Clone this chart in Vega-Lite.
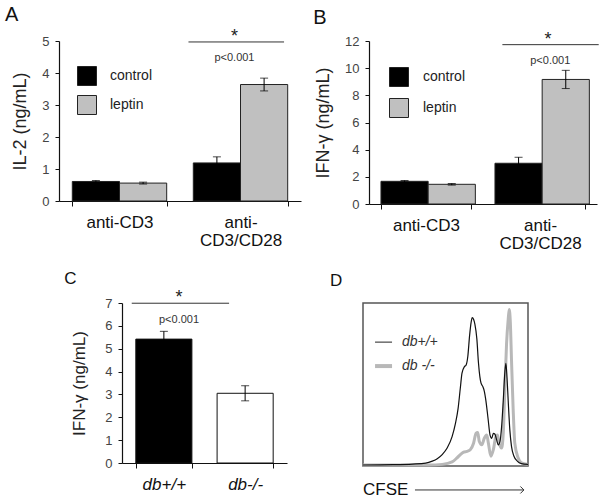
{
  "$schema": "https://vega.github.io/schema/vega-lite/v6.json",
  "background": "white",
  "padding": {"left": 5, "top": 5, "right": 0, "bottom": 0},
  "spacing": 18,
  "resolve": {"scale": {"fill": "independent"}, "legend": {"fill": "independent"}},
  "datasets": {
    "a": [
      {"stim": "anti-CD3", "trt": "control", "mean": 0.61, "lo": 0.58, "hi": 0.64},
      {"stim": "anti-CD3", "trt": "leptin", "mean": 0.56, "lo": 0.53, "hi": 0.59},
      {"stim": "anti-CD3/CD28", "trt": "control", "mean": 1.19, "lo": 1.0, "hi": 1.38},
      {"stim": "anti-CD3/CD28", "trt": "leptin", "mean": 3.64, "lo": 3.44, "hi": 3.84}
    ],
    "b": [
      {"stim": "anti-CD3", "trt": "control", "mean": 1.67, "lo": 1.61, "hi": 1.73},
      {"stim": "anti-CD3", "trt": "leptin", "mean": 1.45, "lo": 1.39, "hi": 1.51},
      {"stim": "anti-CD3/CD28", "trt": "control", "mean": 3.0, "lo": 2.56, "hi": 3.44},
      {"stim": "anti-CD3/CD28", "trt": "leptin", "mean": 9.17, "lo": 8.5, "hi": 9.84}
    ],
    "c": [
      {"geno": "db+/+", "mean": 5.42, "lo": 5.08, "hi": 5.76},
      {"geno": "db-/-", "mean": 3.05, "lo": 2.72, "hi": 3.38}
    ],
    "d_wt": [
      {"ch": 0, "count": 0.6}, {"ch": 18, "count": 0.8}, {"ch": 30, "count": 1.2}, {"ch": 38, "count": 1.8},
      {"ch": 42, "count": 3}, {"ch": 45, "count": 4.5}, {"ch": 48, "count": 7}, {"ch": 51, "count": 11},
      {"ch": 54, "count": 18}, {"ch": 56, "count": 26}, {"ch": 57.6, "count": 35}, {"ch": 59, "count": 48},
      {"ch": 60, "count": 57}, {"ch": 61.5, "count": 61}, {"ch": 62.5, "count": 62}, {"ch": 63.5, "count": 67},
      {"ch": 64.6, "count": 80}, {"ch": 65.5, "count": 88}, {"ch": 66.2, "count": 91}, {"ch": 67, "count": 90},
      {"ch": 67.8, "count": 87}, {"ch": 69, "count": 78}, {"ch": 70, "count": 63}, {"ch": 70.8, "count": 55},
      {"ch": 71.5, "count": 51}, {"ch": 72.5, "count": 49}, {"ch": 73.5, "count": 46}, {"ch": 74.5, "count": 40},
      {"ch": 75.8, "count": 29}, {"ch": 77, "count": 19}, {"ch": 78, "count": 17}, {"ch": 79, "count": 20},
      {"ch": 80, "count": 19.5}, {"ch": 81, "count": 16}, {"ch": 82, "count": 13}, {"ch": 83, "count": 15},
      {"ch": 84, "count": 24}, {"ch": 85, "count": 40}, {"ch": 86, "count": 58}, {"ch": 86.6, "count": 63},
      {"ch": 87.3, "count": 54}, {"ch": 88, "count": 40}, {"ch": 89, "count": 22}, {"ch": 90, "count": 12},
      {"ch": 91.5, "count": 6}, {"ch": 93.5, "count": 3}, {"ch": 96, "count": 1.5}, {"ch": 100, "count": 1}
    ],
    "d_ko": [
      {"ch": 0, "count": 0.6}, {"ch": 40, "count": 0.6}, {"ch": 48, "count": 1}, {"ch": 54, "count": 2.5},
      {"ch": 57, "count": 5}, {"ch": 59, "count": 7}, {"ch": 61, "count": 8.5}, {"ch": 63, "count": 9},
      {"ch": 65, "count": 10}, {"ch": 67, "count": 14}, {"ch": 68.5, "count": 20}, {"ch": 69.5, "count": 20.5},
      {"ch": 70.5, "count": 15}, {"ch": 72, "count": 13}, {"ch": 73.5, "count": 17}, {"ch": 75, "count": 19},
      {"ch": 76, "count": 14}, {"ch": 77.5, "count": 6}, {"ch": 79, "count": 10}, {"ch": 80.5, "count": 18},
      {"ch": 81.5, "count": 19}, {"ch": 82.5, "count": 14}, {"ch": 84, "count": 11}, {"ch": 85, "count": 20},
      {"ch": 86, "count": 48}, {"ch": 87, "count": 75}, {"ch": 88, "count": 90}, {"ch": 88.6, "count": 96},
      {"ch": 89.3, "count": 88}, {"ch": 90, "count": 65}, {"ch": 91, "count": 35}, {"ch": 92, "count": 14},
      {"ch": 94, "count": 5}, {"ch": 96, "count": 2}, {"ch": 100, "count": 1}
    ]
  },
  "vconcat": [
    {
      "spacing": 12,
      "resolve": {"scale": {"fill": "independent"}, "legend": {"fill": "independent"}},
      "hconcat": [
        {
          "width": 242,
          "height": 160,
          "layer": [
            {
              "data": {"name": "a"},
              "encoding": {
                "x": {"field": "stim", "type": "nominal", "sort": ["anti-CD3", "anti-CD3/CD28"],
                  "scale": {"paddingInner": 0.22, "paddingOuter": 0.11},
                  "axis": {"title": null, "labelAngle": 0, "tickBand": "extent", "labelLineHeight": 18,
                    "labelExpr": "datum.value == 'anti-CD3/CD28' ? ['anti-', 'CD3/CD28'] : datum.value"}},
                "xOffset": {"field": "trt", "type": "nominal", "sort": ["control", "leptin"], "scale": {"paddingInner": 0, "paddingOuter": 0}}
              },
              "layer": [
                {
                  "mark": {"type": "bar", "stroke": "#222", "strokeWidth": 1},
                  "encoding": {
                    "y": {"field": "mean", "type": "quantitative",
                      "scale": {"domain": [0, 5], "nice": false},
                      "axis": {"title": "IL-2 (ng/mL)", "values": [0, 1, 2, 3, 4, 5], "titleFontSize": 18, "titlePadding": 12}},
                    "fill": {"field": "trt", "type": "nominal", "scale": {"domain": ["control", "leptin"], "range": ["#000000", "#c0c0c0"]},
                      "legend": {"orient": "none", "legendX": 18, "legendY": 25, "title": null, "symbolType": "square", "symbolSize": 361, "symbolStrokeColor": "#222", "symbolStrokeWidth": 1, "labelFontSize": 14, "labelOffset": 13, "rowPadding": 5, "padding": 0, "labelColor": "#222"}}
                  }
                },
                {"mark": {"type": "rule", "color": "black", "strokeWidth": 1},
                 "encoding": {"y": {"field": "lo", "type": "quantitative", "scale": {"domain": [0, 5], "nice": false}, "axis": {"title": "IL-2 (ng/mL)", "values": [0, 1, 2, 3, 4, 5], "titleFontSize": 18, "titlePadding": 12}}, "y2": {"field": "hi"}}},
                {"mark": {"type": "tick", "orient": "horizontal", "color": "black", "size": 8, "thickness": 1},
                 "encoding": {"y": {"field": "hi", "type": "quantitative", "scale": {"domain": [0, 5], "nice": false}, "axis": {"title": "IL-2 (ng/mL)", "values": [0, 1, 2, 3, 4, 5], "titleFontSize": 18, "titlePadding": 12}}}},
                {"mark": {"type": "tick", "orient": "horizontal", "color": "black", "size": 8, "thickness": 1},
                 "encoding": {"y": {"field": "lo", "type": "quantitative", "scale": {"domain": [0, 5], "nice": false}, "axis": {"title": "IL-2 (ng/mL)", "values": [0, 1, 2, 3, 4, 5], "titleFontSize": 18, "titlePadding": 12}}}}
              ]
            },
            {
              "encoding": {
                "x": {"field": "x", "type": "quantitative", "scale": {"domain": [0, 2], "nice": false, "zero": false}, "axis": null},
                "y": {"field": "y", "type": "quantitative", "scale": {"domain": [0, 5], "nice": false}, "axis": {"title": "IL-2 (ng/mL)", "values": [0, 1, 2, 3, 4, 5], "titleFontSize": 18, "titlePadding": 12}}
              },
              "layer": [
                {"data": {"values": [{"x": 1.07, "x2": 1.86, "y": 4.97}]},
                 "mark": {"type": "rule", "color": "#333", "strokeWidth": 1},
                 "encoding": {"x2": {"field": "x2"}}},
                {"data": {"values": [{"x": 1.45, "y": 5.12, "t": "*"}]},
                 "mark": {"type": "text", "fontSize": 18, "color": "#222", "baseline": "middle"},
                 "encoding": {"text": {"field": "t"}}},
                {"data": {"values": [{"x": 1.45, "y": 4.47, "t": "p<0.001"}]},
                 "mark": {"type": "text", "fontSize": 11, "color": "#333", "baseline": "middle"},
                 "encoding": {"text": {"field": "t"}}},
                {"data": {"values": [{"x": -0.446, "y": 5.81, "t": "A"}]},
                 "mark": {"type": "text", "fontSize": 20, "color": "#111", "align": "left", "baseline": "middle"},
                 "encoding": {"text": {"field": "t"}}}
              ]
            }
          ],
          "resolve": {"scale": {"x": "independent"}}
        },
        {
          "width": 228,
          "height": 163,
          "layer": [
            {
              "data": {"name": "b"},
              "encoding": {
                "x": {"field": "stim", "type": "nominal", "sort": ["anti-CD3", "anti-CD3/CD28"],
                  "scale": {"paddingInner": 0.21, "paddingOuter": 0.105},
                  "axis": {"title": null, "labelAngle": 0, "tickBand": "extent", "labelLineHeight": 18,
                    "labelExpr": "datum.value == 'anti-CD3/CD28' ? ['anti-', 'CD3/CD28'] : datum.value"}},
                "xOffset": {"field": "trt", "type": "nominal", "sort": ["control", "leptin"], "scale": {"paddingInner": 0, "paddingOuter": 0}}
              },
              "layer": [
                {
                  "mark": {"type": "bar", "stroke": "#222", "strokeWidth": 1},
                  "encoding": {
                    "y": {"field": "mean", "type": "quantitative",
                      "scale": {"domain": [0, 12], "nice": false},
                      "axis": {"title": "IFN-γ (ng/mL)", "values": [0, 2, 4, 6, 8, 10, 12], "titleFontSize": 18, "titlePadding": 12}},
                    "fill": {"field": "trt", "type": "nominal", "scale": {"domain": ["control", "leptin"], "range": ["#000000", "#c0c0c0"]},
                      "legend": {"orient": "none", "legendX": 20, "legendY": 26, "title": null, "symbolType": "square", "symbolSize": 361, "symbolStrokeColor": "#222", "symbolStrokeWidth": 1, "labelFontSize": 14, "labelOffset": 14, "rowPadding": 7, "padding": 0, "labelColor": "#222"}}
                  }
                },
                {"mark": {"type": "rule", "color": "black", "strokeWidth": 1},
                 "encoding": {"y": {"field": "lo", "type": "quantitative", "scale": {"domain": [0, 12], "nice": false}, "axis": {"title": "IFN-γ (ng/mL)", "values": [0, 2, 4, 6, 8, 10, 12], "titleFontSize": 18, "titlePadding": 12}}, "y2": {"field": "hi"}}},
                {"mark": {"type": "tick", "orient": "horizontal", "color": "black", "size": 8, "thickness": 1},
                 "encoding": {"y": {"field": "hi", "type": "quantitative", "scale": {"domain": [0, 12], "nice": false}, "axis": {"title": "IFN-γ (ng/mL)", "values": [0, 2, 4, 6, 8, 10, 12], "titleFontSize": 18, "titlePadding": 12}}}},
                {"mark": {"type": "tick", "orient": "horizontal", "color": "black", "size": 8, "thickness": 1},
                 "encoding": {"y": {"field": "lo", "type": "quantitative", "scale": {"domain": [0, 12], "nice": false}, "axis": {"title": "IFN-γ (ng/mL)", "values": [0, 2, 4, 6, 8, 10, 12], "titleFontSize": 18, "titlePadding": 12}}}}
              ]
            },
            {
              "encoding": {
                "x": {"field": "x", "type": "quantitative", "scale": {"domain": [0, 2], "nice": false, "zero": false}, "axis": null},
                "y": {"field": "y", "type": "quantitative", "scale": {"domain": [0, 12], "nice": false}, "axis": {"title": "IFN-γ (ng/mL)", "values": [0, 2, 4, 6, 8, 10, 12], "titleFontSize": 18, "titlePadding": 12}}
              },
              "layer": [
                {"data": {"values": [{"x": 1.17, "x2": 2.015, "y": 11.73}]},
                 "mark": {"type": "rule", "color": "#333", "strokeWidth": 1},
                 "encoding": {"x2": {"field": "x2"}}},
                {"data": {"values": [{"x": 1.57, "y": 12.08, "t": "*"}]},
                 "mark": {"type": "text", "fontSize": 18, "color": "#222", "baseline": "middle"},
                 "encoding": {"text": {"field": "t"}}},
                {"data": {"values": [{"x": 1.59, "y": 10.53, "t": "p<0.001"}]},
                 "mark": {"type": "text", "fontSize": 11, "color": "#333", "baseline": "middle"},
                 "encoding": {"text": {"field": "t"}}},
                {"data": {"values": [{"x": -0.49, "y": 13.7, "t": "B"}]},
                 "mark": {"type": "text", "fontSize": 20, "color": "#111", "align": "left", "baseline": "middle"},
                 "encoding": {"text": {"field": "t"}}}
              ]
            }
          ],
          "resolve": {"scale": {"x": "independent"}}
        }
      ]
    },
    {
      "spacing": 42,
      "resolve": {"scale": {"fill": "independent"}, "legend": {"fill": "independent"}},
      "hconcat": [
        {
          "spacing": 0,
          "hconcat": [
            {
              "width": 5,
              "height": 4,
              "view": {"fill": "white", "stroke": null},
              "data": {"values": []},
              "mark": {"type": "point", "opacity": 0}
            },
            {
              "width": 165,
              "height": 160,
              "layer": [
                {
                  "data": {"name": "c"},
                  "encoding": {
                    "x": {"field": "geno", "type": "nominal", "sort": ["db+/+", "db-/-"],
                      "scale": {"paddingInner": 0.31, "paddingOuter": 0.17},
                      "axis": {"title": null, "labelAngle": 0, "tickBand": "extent", "labelFontStyle": "italic"}}
                  },
                  "layer": [
                    {
                      "mark": {"type": "bar", "stroke": "#111", "strokeWidth": 1},
                      "encoding": {
                        "y": {"field": "mean", "type": "quantitative",
                          "scale": {"domain": [0, 7], "nice": false},
                          "axis": {"title": "IFN-γ (ng/mL)", "values": [0, 1, 2, 3, 4, 5, 6, 7], "titleFontSize": 17, "titlePadding": 16}},
                        "fill": {"field": "geno", "type": "nominal", "scale": {"domain": ["db+/+", "db-/-"], "range": ["#000000", "#ffffff"]}, "legend": null}
                      }
                    },
                    {"mark": {"type": "rule", "color": "black", "strokeWidth": 1},
                     "encoding": {"y": {"field": "lo", "type": "quantitative", "scale": {"domain": [0, 7], "nice": false}, "axis": {"title": "IFN-γ (ng/mL)", "values": [0, 1, 2, 3, 4, 5, 6, 7], "titleFontSize": 17, "titlePadding": 16}}, "y2": {"field": "hi"}}},
                    {"mark": {"type": "tick", "orient": "horizontal", "color": "black", "size": 8, "thickness": 1},
                     "encoding": {"y": {"field": "hi", "type": "quantitative", "scale": {"domain": [0, 7], "nice": false}, "axis": {"title": "IFN-γ (ng/mL)", "values": [0, 1, 2, 3, 4, 5, 6, 7], "titleFontSize": 17, "titlePadding": 16}}}},
                    {"mark": {"type": "tick", "orient": "horizontal", "color": "black", "size": 8, "thickness": 1},
                     "encoding": {"y": {"field": "lo", "type": "quantitative", "scale": {"domain": [0, 7], "nice": false}, "axis": {"title": "IFN-γ (ng/mL)", "values": [0, 1, 2, 3, 4, 5, 6, 7], "titleFontSize": 17, "titlePadding": 16}}}}
                  ]
                },
                {
                  "encoding": {
                    "x": {"field": "x", "type": "quantitative", "scale": {"domain": [0, 2], "nice": false, "zero": false}, "axis": null},
                    "y": {"field": "y", "type": "quantitative", "scale": {"domain": [0, 7], "nice": false}, "axis": {"title": "IFN-γ (ng/mL)", "values": [0, 1, 2, 3, 4, 5, 6, 7], "titleFontSize": 17, "titlePadding": 16}}
                  },
                  "layer": [
                    {"data": {"values": [{"x": 0.118, "x2": 1.298, "y": 6.99}]},
                     "mark": {"type": "rule", "color": "#333", "strokeWidth": 1},
                     "encoding": {"x2": {"field": "x2"}}},
                    {"data": {"values": [{"x": 0.691, "y": 7.22, "t": "*"}]},
                     "mark": {"type": "text", "fontSize": 18, "color": "#222", "baseline": "middle"},
                     "encoding": {"text": {"field": "t"}}},
                    {"data": {"values": [{"x": 0.691, "y": 6.26, "t": "p<0.001"}]},
                     "mark": {"type": "text", "fontSize": 11, "color": "#333", "baseline": "middle"},
                     "encoding": {"text": {"field": "t"}}},
                    {"data": {"values": [{"x": -0.7, "y": 8.07, "t": "C"}]},
                     "mark": {"type": "text", "fontSize": 17, "color": "#111", "align": "left", "baseline": "middle"},
                     "encoding": {"text": {"field": "t"}}}
                  ]
                }
              ],
              "resolve": {"scale": {"x": "independent"}}
            }
          ]
        },
        {
          "width": 165,
          "height": 163,
          "view": {"stroke": "#555", "strokeWidth": 1.5},
          "encoding": {
            "x": {"field": "x", "type": "quantitative", "scale": {"domain": [0, 100], "nice": false, "zero": false}, "axis": null},
            "y": {"field": "y", "type": "quantitative", "scale": {"domain": [0, 100], "nice": false}, "axis": null}
          },
          "layer": [
            {"data": {"name": "d_ko"},
             "mark": {"type": "line", "color": "#b8b8b8", "strokeWidth": 3, "interpolate": "monotone"},
             "encoding": {"x": {"field": "ch", "type": "quantitative"}, "y": {"field": "count", "type": "quantitative"}}},
            {"data": {"name": "d_wt"},
             "mark": {"type": "line", "color": "#111", "strokeWidth": 1.2, "interpolate": "monotone"},
             "encoding": {"x": {"field": "ch", "type": "quantitative"}, "y": {"field": "count", "type": "quantitative"}}},
            {"data": {"values": [{"x": 7.3, "x2": 17.6, "y": 76}]},
             "mark": {"type": "rule", "color": "#222", "strokeWidth": 1},
             "encoding": {"x2": {"field": "x2"}}},
            {"data": {"values": [{"x": 7.3, "x2": 17.6, "y": 61.3}]},
             "mark": {"type": "rule", "color": "#b8b8b8", "strokeWidth": 4},
             "encoding": {"x2": {"field": "x2"}}},
            {"data": {"values": [{"x": 23.6, "y": 76, "t": "db+/+"}, {"x": 23.6, "y": 61.3, "t": "db -/-"}]},
             "mark": {"type": "text", "fontSize": 14, "fontStyle": "italic", "color": "#333", "align": "left", "baseline": "middle"},
             "encoding": {"text": {"field": "t"}}},
            {"data": {"values": [{"x": 0, "y": -14.7, "t": "CFSE"}]},
             "mark": {"type": "text", "fontSize": 17, "color": "#111", "align": "left", "baseline": "middle"},
             "encoding": {"text": {"field": "t"}}},
            {"data": {"values": [{"x": 31.5, "x2": 97.5, "y": -14.7}]},
             "mark": {"type": "rule", "color": "#333", "strokeWidth": 1},
             "encoding": {"x2": {"field": "x2"}}},
            {"data": {"values": [{"x": 97.5, "y": -14.7}]},
             "mark": {"type": "point", "shape": "M-1,-1L0,0L-1,1", "size": 49, "filled": false, "color": "#333", "strokeWidth": 1, "opacity": 1}},
            {"data": {"values": [{"x": -20, "y": 113.8, "t": "D"}]},
             "mark": {"type": "text", "fontSize": 17, "color": "#111", "align": "left", "baseline": "middle"},
             "encoding": {"text": {"field": "t"}}}
          ]
        }
      ]
    }
  ],
  "config": {
    "font": "Liberation Sans",
    "view": {"stroke": null},
    "axis": {"grid": false, "domainColor": "#111", "tickColor": "#111", "domainWidth": 1.2, "labelFont": "Liberation Sans", "titleFont": "Liberation Sans", "titleFontWeight": "normal"},
    "axisY": {"tickSize": 4, "labelFontSize": 13, "labelColor": "#444", "titleColor": "#222", "labelPadding": 6},
    "axisX": {"tickSize": 5, "labelFontSize": 17, "labelColor": "#111", "labelPadding": 8},
    "legend": {"labelFont": "Liberation Sans"}
  }
}
